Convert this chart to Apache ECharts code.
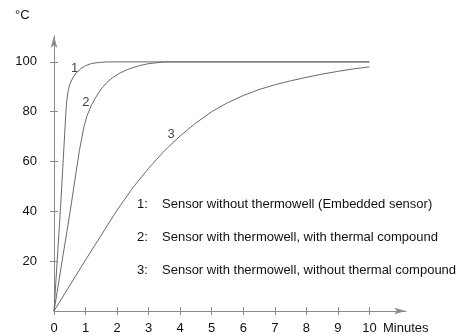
<!DOCTYPE html>
<html>
<head>
<meta charset="utf-8">
<script src="https://cdn.jsdelivr.net/npm/echarts@6/dist/echarts.min.js"></script>
<style>
  html, body { margin: 0; padding: 0; background: #fff; }
  #chart { width: 470px; height: 335px; }
</style>
</head>
<body>
<div id="chart"></div>
<script>
// response curves, [minutes, °C]
var curve1 = [[0,0],[0.2,40],[0.37,78],[0.4,84],[0.45,88.5],[0.5,91],[0.6,93.7],[0.7,95.5],[0.85,97.3],[1,98.5],[1.2,99.4],[1.45,99.8],[1.7,100],[10,100]];
var curve2 = [[0,0],[0.5,39],[0.8,64],[0.95,74],[1.05,78.5],[1.2,83],[1.35,86.3],[1.5,89.2],[1.67,91.7],[1.85,93.6],[2.1,95.6],[2.4,97.3],[2.7,98.5],[3,99.3],[3.5,100],[10,100]];
var curve3 = [[0,0],[1,20.5],[1.5,30.5],[2,40.5],[2.5,49.5],[3,57.3],[3.5,64.3],[4,70.3],[4.5,75.5],[5,80],[5.5,83.6],[6,86.5],[6.5,88.9],[7,90.8],[7.5,92.4],[8,93.8],[8.5,95.1],[9,96.2],[9.5,97.2],[10,98]];

var xTicks = [0,1,2,3,4,5,6,7,8,9,10];
var yTicks = [20,40,60,80,100];
var legendLines = [
  ['1:', 'Sensor without thermowell (Embedded sensor)'],
  ['2:', 'Sensor with thermowell, with thermal compound'],
  ['3:', 'Sensor with thermowell, without thermal compound']
];
// curve number labels, placed in data units
var curveTags = [['1', 0.65, 97.5], ['2', 1.01, 83.7], ['3', 3.71, 70.7]];

var font = 'Liberation Sans, Arial, sans-serif';
var axisCol = '#8a8a8a';
var lineCol = '#6a6a6a';

var chart = echarts.init(document.getElementById('chart'), null, {renderer: 'canvas'});

function lineSeries(data) {
  return {
    type: 'line',
    data: data,
    showSymbol: false,
    symbol: 'none',
    smooth: false,
    lineStyle: {color: lineCol, width: 1},
    silent: true,
    animation: false
  };
}

var tagSeries = {
  type: 'scatter',
  data: curveTags.map(function (t) { return {value: [t[1], t[2]], name: t[0]}; }),
  symbolSize: 0,
  label: {
    show: true, position: 'inside', formatter: '{b}',
    color: '#111', fontFamily: font, fontSize: 13
  },
  silent: true,
  animation: false
};

var legendGraphic = [];
legendLines.forEach(function (l, i) {
  var y = 205 + i * 33;
  legendGraphic.push({type: 'text', left: 137, top: y - 7, style: {text: l[0], fill: '#111', font: '13px ' + font}});
  legendGraphic.push({type: 'text', left: 162, top: y - 7, style: {text: l[1], fill: '#111', font: '13px ' + font}});
});
legendGraphic.push({type: 'text', left: 15, top: 9, style: {text: '°C', fill: '#111', font: '13px ' + font}});
legendGraphic.push({type: 'text', left: 383, top: 322, style: {text: 'Minutes', fill: '#111', font: '13px ' + font}});

var arrowLine = {show: true, symbol: ['none', 'arrow'], symbolSize: [5, 12], lineStyle: {color: axisCol, width: 1}};

var option = {
  animation: false,
  grid: {left: 54, right: 64, top: 36, bottom: 23, containLabel: false},
  xAxis: [{
    type: 'value', min: 0, max: 11.16,
    axisLine: arrowLine,
    axisTick: {show: true, length: 4, customValues: xTicks, lineStyle: {color: axisCol, width: 1}},
    axisLabel: {customValues: xTicks, color: '#111', fontFamily: font, fontSize: 13, margin: 11},
    splitLine: {show: false}
  }, {
    type: 'value', min: 0, max: 11.16, position: 'bottom', gridIndex: 0,
    axisLine: {show: false},
    axisTick: {show: true, inside: true, length: 4, customValues: xTicks, lineStyle: {color: axisCol, width: 1}},
    axisLabel: {show: false, customValues: xTicks},
    splitLine: {show: false}
  }],
  yAxis: [{
    type: 'value', min: 0, max: 110.4,
    axisLine: arrowLine,
    axisTick: {show: true, length: 4, customValues: yTicks, lineStyle: {color: axisCol, width: 1}},
    axisLabel: {customValues: yTicks, color: '#111', fontFamily: font, fontSize: 13, margin: 17},
    splitLine: {show: false}
  }, {
    type: 'value', min: 0, max: 110.4, position: 'left', gridIndex: 0,
    axisLine: {show: false},
    axisTick: {show: true, inside: true, length: 4, customValues: yTicks, lineStyle: {color: axisCol, width: 1}},
    axisLabel: {show: false, customValues: yTicks},
    splitLine: {show: false}
  }],
  series: [lineSeries(curve1), lineSeries(curve2), lineSeries(curve3), tagSeries],
  graphic: legendGraphic
};

chart.setOption(option);
</script>
</body>
</html>
